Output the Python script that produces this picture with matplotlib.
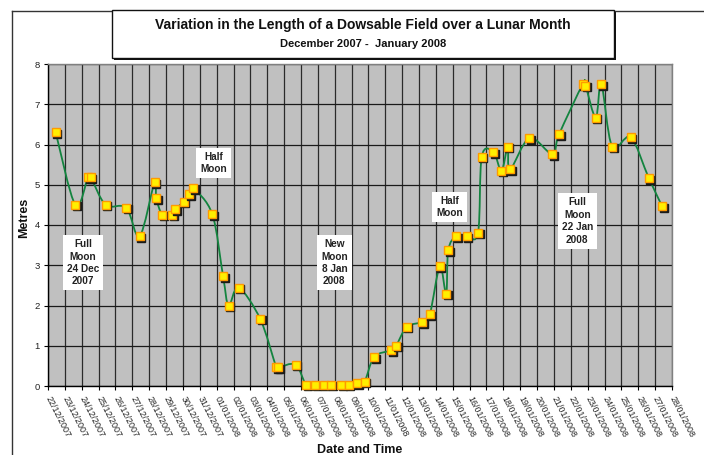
import matplotlib
matplotlib.use("Agg")
import matplotlib.pyplot as plt
from matplotlib.path import Path
from matplotlib.patches import PathPatch, Rectangle
from matplotlib.lines import Line2D
from matplotlib.transforms import ScaledTranslation
import numpy as np

plt.rcParams['font.family'] = ['Liberation Sans', 'DejaVu Sans']

# ---------------- data ----------------
tick_labels = [
    "22/12/2007", "23/12/2007", "24/12/2007", "25/12/2007", "26/12/2007",
    "27/12/2007", "28/12/2007", "29/12/2007", "30/12/2007", "31/12/2007",
    "01/01/2008", "02/01/2008", "03/01/2008", "04/01/2008", "05/01/2008",
    "06/01/2008", "07/01/2008", "08/01/2008", "09/01/2008", "10/01/2008",
    "11/01/2008", "12/01/2008", "13/01/2008", "14/01/2008", "15/01/2008",
    "16/01/2008", "17/01/2008", "18/01/2008", "19/01/2008", "20/01/2008",
    "21/01/2008", "22/01/2008", "23/01/2008", "24/01/2008", "25/01/2008",
    "26/01/2008", "27/01/2008", "28/01/2008",
]

# measurement times, in days since 22/12/2007 00:00
days = [
    0.45, 1.62, 2.37, 2.53, 3.42, 4.64, 5.43, 6.32, 6.42, 6.78,
    7.35, 7.55, 8.04, 8.36, 8.60, 9.74, 10.38, 10.71, 11.30, 12.58,
    13.53, 13.65, 14.68, 15.31, 15.86, 16.34, 16.81, 17.40, 17.84, 18.33,
    18.77, 19.34, 20.35, 20.64, 21.28, 22.19, 22.64, 23.23, 23.61, 23.73,
    24.20, 24.83, 25.50, 25.72, 26.41, 26.89, 27.26, 27.40, 28.55, 29.91,
    30.30, 31.71, 31.87, 32.48, 32.81, 33.45, 34.55, 35.62, 36.41,
]
metres = [
    6.31, 4.50, 5.19, 5.19, 4.50, 4.43, 3.72, 5.07, 4.66, 4.26,
    4.26, 4.39, 4.58, 4.77, 4.91, 4.27, 2.73, 2.00, 2.44, 1.67,
    0.47, 0.46, 0.53, 0.03, 0.03, 0.03, 0.03, 0.03, 0.03, 0.07,
    0.11, 0.72, 0.89, 1.00, 1.47, 1.59, 1.78, 2.97, 2.29, 3.37,
    3.72, 3.72, 3.81, 5.70, 5.81, 5.35, 5.95, 5.38, 6.16, 5.76,
    6.25, 7.50, 7.46, 6.67, 7.50, 5.95, 6.18, 5.17, 4.47,
]

note_texts = ["Full\nMoon\n24 Dec\n2007", "Half\nMoon", "New\nMoon\n8 Jan\n2008",
              "Half\nMoon", "Full\nMoon\n22 Jan\n2008"]
note_x = [2.08, 9.83, 16.98, 23.81, 31.38]
note_y = [3.06, 5.54, 3.06, 4.45, 4.10]

y_ticks = [0, 1, 2, 3, 4, 5, 6, 7, 8]

title = "Variation in the Length of a Dowsable Field over a Lunar Month"
subtitle = "December 2007 -  January 2008"

# ---------------- figure ----------------
W, H = 704, 455
fig = plt.figure(figsize=(W / 100, H / 100), dpi=100)
ax = fig.add_axes([48 / W, 1 - 386 / H, 624 / W, 322 / H])
ax.set_facecolor('#C0C0C0')
ax.set_xlim(0, len(tick_labels) - 1)
ax.set_ylim(y_ticks[0], y_ticks[-1])

ax.set_xticks(range(len(tick_labels)))
ax.set_xticklabels(tick_labels, rotation=-63, rotation_mode='anchor',
                   ha='left', va='center', fontsize=6.4, color='#222222')
ax.set_yticks(y_ticks)
ax.set_yticklabels([str(v) for v in y_ticks], fontsize=6.8, color='#222222')
ax.tick_params(axis='both', direction='out', length=3, width=0.8, color='black', pad=3)
ax.tick_params(axis='x', pad=5)

ax.grid(True, axis='x', color='#2a2a2a', lw=0.9)
ax.grid(True, axis='y', color='#1a1a1a', lw=0.9)
ax.set_axisbelow(True)
for s in ['top', 'right']:
    ax.spines[s].set_color('#808080')
    ax.spines[s].set_linewidth(1.0)
for s in ['left', 'bottom']:
    ax.spines[s].set_color('black')
    ax.spines[s].set_linewidth(1.0)

# smoothed connecting line (Bezier through the data points)
pts = np.column_stack([days, metres])
n = len(pts)
verts = [pts[0]]
codes = [Path.MOVETO]
for i in range(n - 1):
    p0 = pts[i - 1] if i > 0 else pts[i]
    p1 = pts[i]
    p2 = pts[i + 1]
    p3 = pts[i + 2] if i + 2 < n else pts[i + 1]
    c1 = p1 + (p2 - p0) / 6.0
    c2 = p2 - (p3 - p1) / 6.0
    verts += [c1, c2, p2]
    codes += [Path.CURVE4] * 3
ax.add_patch(PathPatch(Path(verts, codes), fill=False, edgecolor='#13843f',
                       lw=1.3, zorder=3, transform=ax.transData))

# markers with shadow
shadow = ax.transData + ScaledTranslation(1.6 / 100, -1.6 / 100, fig.dpi_scale_trans)
for x, y in zip(days, metres):
    ax.plot([x], [y], 's', ms=6.2, mfc='#1a1a1a', mec='#1a1a1a', mew=1.0,
            transform=shadow, zorder=4, clip_on=False)
    ax.plot([x], [y], 's', ms=6.2, mfc='#FFEF00', mec='#FF9A00', mew=1.0,
            zorder=4, clip_on=False)

# moon phase notes
for t, x, y in zip(note_texts, note_x, note_y):
    ax.text(x, y, t, ha='center', va='center', fontsize=7.2, fontweight='bold',
            color='#222222', linespacing=1.3, zorder=5,
            bbox=dict(boxstyle='square,pad=0.4', fc='white', ec='none'))

# axis titles
fig.text(24 / W, 1 - 218 / H, "Metres", rotation=90, ha='center', va='center',
         fontsize=9, fontweight='bold', color='#111111')
fig.text(360 / W, 1 - 450 / H, "Date and Time", ha='center', va='center',
         fontsize=9, fontweight='bold', color='#111111')

# outer frame
fig.add_artist(Line2D([12 / W, 12 / W], [0, 1 - 11 / H], color='#333333', lw=1.0))
fig.add_artist(Line2D([12 / W, 1], [1 - 11 / H, 1 - 11 / H], color='#333333', lw=1.0))

# title box with shadow
fig.add_artist(Rectangle((114 / W, 1 - 60 / H), 502 / W, 48 / H, transform=fig.transFigure,
                         fc='#111111', ec='none', zorder=1.9))
fig.add_artist(Rectangle((112 / W, 1 - 58 / H), 502 / W, 48 / H, transform=fig.transFigure,
                         fc='white', ec='#111111', lw=1.0, zorder=2))
fig.text(363 / W, 1 - 25 / H, title, ha='center', va='center', fontsize=10,
         fontweight='bold', color='#111111', zorder=3)
fig.text(363 / W, 1 - 44 / H, subtitle, ha='center', va='center', fontsize=8,
         fontweight='bold', color='#111111', zorder=3)

fig.savefig("out.png", dpi=100)
